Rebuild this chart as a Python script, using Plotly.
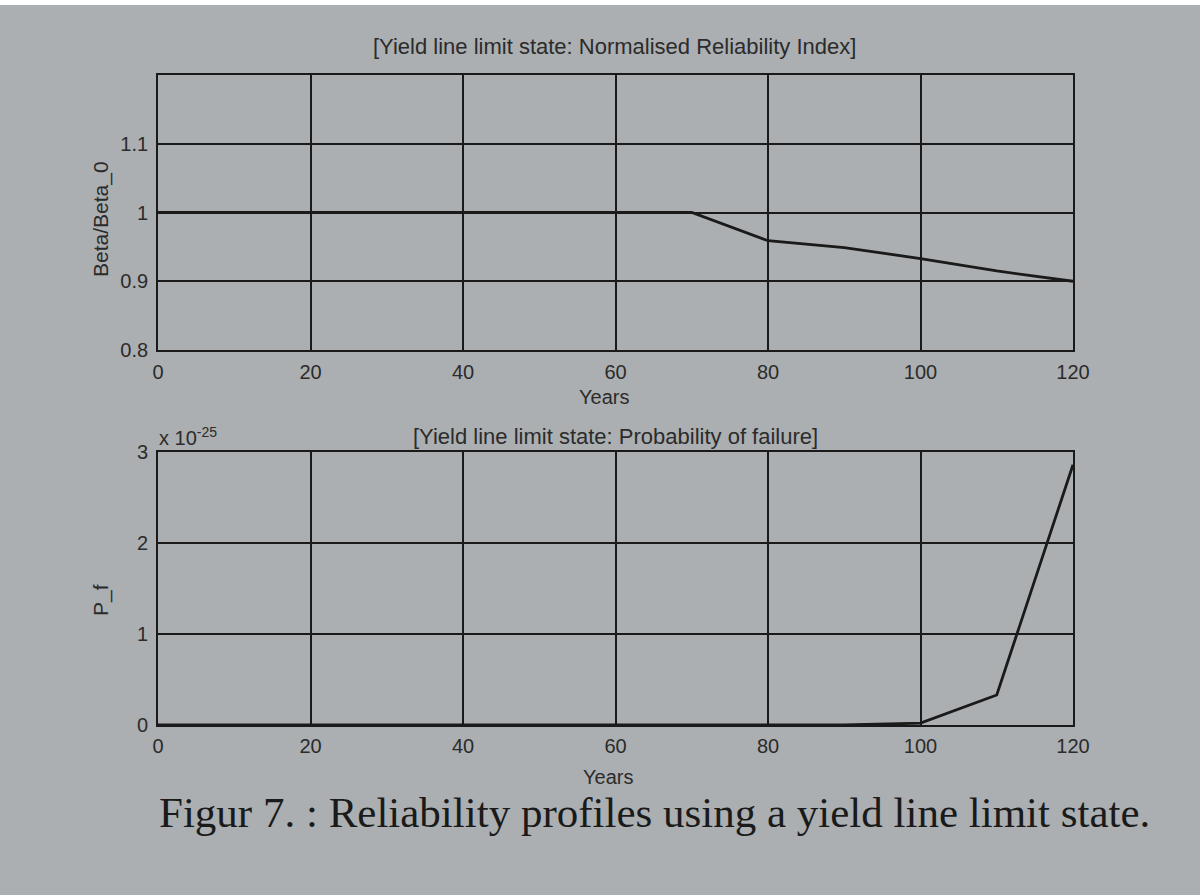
import plotly.graph_objects as go

years = [0, 10, 20, 30, 40, 50, 60, 70, 80, 90, 100, 110, 120]
beta_ratio = [1.0, 1.0, 1.0, 1.0, 1.0, 1.0, 1.0, 1.0, 0.959, 0.949, 0.933, 0.915, 0.9]
pf_scaled = [0.0, 0.0, 0.0, 0.0, 0.0, 0.0, 0.0, 0.0, 0.0, 0.0, 0.02, 0.33, 2.86]  # x 10^-25

x_ticks = [0, 20, 40, 60, 80, 100, 120]
top_yticks = [0.8, 0.9, 1.0, 1.1]
top_yticklabels = ["0.8", "0.9", "1", "1.1"]
bot_yticks = [0, 1, 2, 3]

OFF = 8                      # default page margin around the plot div
W, H = 1200 - 2 * OFF, 895 - 2 * OFF
bg = "#abafb1"
ink = "#1a1a1a"
txt = "#2b2b2b"
font = "Liberation Sans, Arial, sans-serif"

def px(x):
    return (x - OFF) / W

def py(y):
    return 1 - (y - OFF) / H

fig = go.Figure()
fig.add_trace(go.Scatter(x=years, y=beta_ratio, mode="lines",
                         line=dict(color=ink, width=2.8), xaxis="x", yaxis="y", showlegend=False))
fig.add_trace(go.Scatter(x=years, y=pf_scaled, mode="lines",
                         line=dict(color=ink, width=2.8), xaxis="x2", yaxis="y2", showlegend=False))

axis_common = dict(showline=True, linecolor=ink, linewidth=1.8, mirror=True,
                   showgrid=True, gridcolor=ink, gridwidth=1.8, zeroline=False,
                   ticks="inside", ticklen=5, tickcolor=ink, automargin=False,
                   tickfont=dict(family=font, size=20, color=txt))

fig.update_layout(
    width=W, height=H,
    paper_bgcolor=bg, plot_bgcolor=bg,
    margin=dict(l=0, r=0, t=0, b=0, pad=0),
    xaxis=dict(domain=[px(158), px(1073)], range=[0, 120], tickvals=x_ticks, anchor="y",
               ticklabelstandoff=3, **axis_common),
    yaxis=dict(domain=[py(350), py(75)], range=[0.8, 1.2], tickvals=top_yticks,
               ticktext=top_yticklabels, anchor="x", ticklabelstandoff=4, **axis_common),
    xaxis2=dict(domain=[px(158), px(1073)], range=[0, 120], tickvals=x_ticks, anchor="y2",
                ticklabelstandoff=2, **axis_common),
    yaxis2=dict(domain=[py(725), py(452)], range=[0, 3], tickvals=bot_yticks, anchor="x2",
                ticklabelstandoff=4, **axis_common),
)

ann = [
    dict(x=px(614), y=py(46), text="[Yield line limit state: Normalised Reliability Index]",
         font=dict(family=font, size=22, color=txt)),
    dict(x=px(615), y=py(437), text="[Yield line limit state: Probability of failure]",
         font=dict(family=font, size=22, color=txt)),
    dict(x=px(604), y=py(397), text="Years", font=dict(family=font, size=20, color=txt)),
    dict(x=px(608), y=py(777), text="Years", font=dict(family=font, size=20, color=txt)),
    dict(x=px(101), y=py(219), text="Beta/Beta_0", textangle=-90,
         font=dict(family=font, size=21, color=txt)),
    dict(x=px(101), y=py(600), text="P_f", textangle=-90,
         font=dict(family=font, size=21, color=txt)),
    dict(x=px(188), y=py(436), text="x 10<sup>-25</sup>",
         font=dict(family=font, size=20, color=txt)),
    dict(x=px(654), y=py(812), text="Figur 7. : Reliability profiles using a yield line limit state.",
         font=dict(family="Liberation Serif, Times New Roman, serif", size=43, color="#1a1a1a")),
]
for a in ann:
    a.update(xref="paper", yref="paper", showarrow=False, xanchor="center", yanchor="middle")
fig.update_layout(annotations=ann)

fig.write_html(
    "out.html",
    config={"displayModeBar": False},
    post_script="document.body.style.background='linear-gradient(#ffffff 0px, #ffffff 5px, %s 5px)';" % bg,
)
